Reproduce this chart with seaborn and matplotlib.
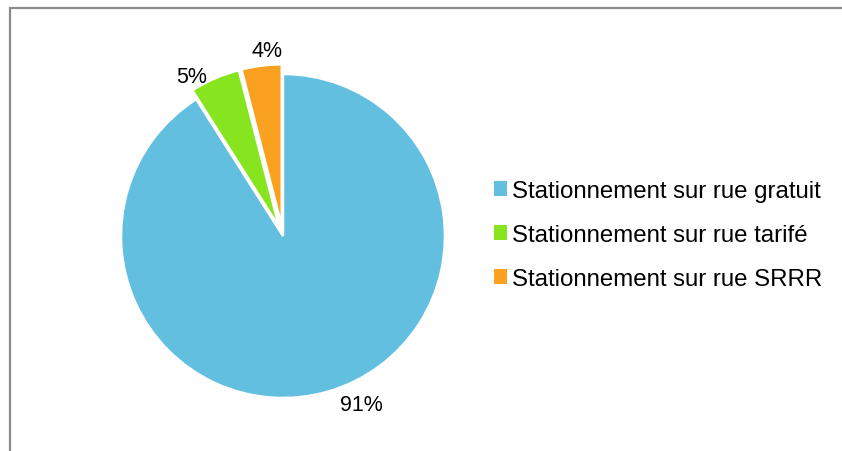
import matplotlib
matplotlib.use("Agg")
import matplotlib.pyplot as plt
from matplotlib.patches import Patch, Rectangle
import seaborn as sns

# Share of on-street parking by type
categories = [
    "Stationnement sur rue gratuit",
    "Stationnement sur rue tarifé",
    "Stationnement sur rue SRRR",
]
shares = [91, 5, 4]
colors = sns.color_palette(["#63BFDF", "#87E520", "#FAA11F"])

sns.set_theme(style="white")
plt.rcParams["font.family"] = ["Liberation Sans", "DejaVu Sans"]
plt.rcParams["text.color"] = "black"

W, H = 842, 452
fig = plt.figure(figsize=(W / 100, H / 100), dpi=100)
fig.patch.set_facecolor("white")
ax = fig.add_axes([0, 0, 1, 1])

cx, cy, r = 283, 237, 162
explode = [0, 0.06, 0.06]
wedges, _ = ax.pie(
    shares,
    colors=colors,
    startangle=90,
    counterclock=False,
    explode=explode,
    radius=1.0,
    wedgeprops=dict(edgecolor="white", linewidth=1.8),
)
ax.set_xlim(-cx / r, (W - cx) / r)
ax.set_ylim(-(H - cy) / r, cy / r)
ax.set_aspect("auto")
ax.axis("off")

# percentage labels (data units, baseline anchored)
label_pos = [(0.481, -1.074), (-0.562, 0.951), (-0.099, 1.111)]
for v, (x, y) in zip(shares, label_pos):
    ax.text(x, y, f"{v}%", ha="center", va="baseline", fontsize=15.5, color="black")

handles = [Patch(facecolor=c, edgecolor="none") for c in colors]
fig.legend(
    handles,
    categories,
    loc="center left",
    bbox_to_anchor=(494 / W, 1 - 236 / H),
    frameon=False,
    fontsize=17.3,
    labelcolor="black",
    handlelength=0.55,
    handleheight=0.55,
    handletextpad=0.2,
    labelspacing=0.92,
    borderpad=0,
    borderaxespad=0,
)

# outer chart frame
fig.patches.append(
    Rectangle((9.5, -10), W + 20, H - 8.5 + 10, transform=None,
              fill=False, edgecolor="#8A8A8A", linewidth=1.6)
)

fig.savefig("out.png", dpi=100, facecolor="white")
